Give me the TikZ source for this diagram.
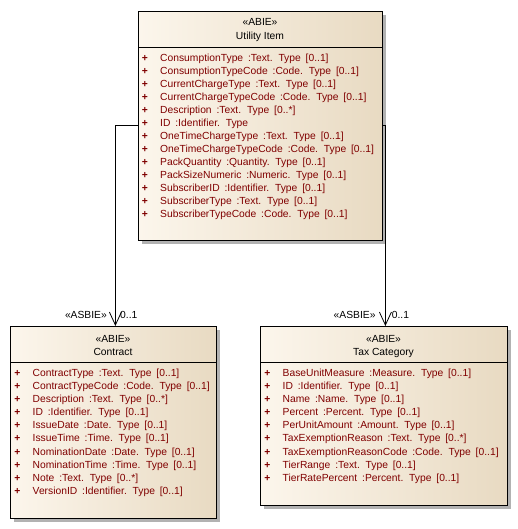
\documentclass[tikz,border=0pt]{standalone}
\usepackage{fontspec}
\setmainfont{Liberation Sans}[WordSpace=1.7]
\newfontfamily\hdrfont{Liberation Sans}
\usetikzlibrary{arrows.meta,shadows}
\definecolor{attrc}{RGB}{128,0,0}
\definecolor{fillL}{RGB}{252,246,236}
\definecolor{fillR}{RGB}{232,218,194}
\definecolor{shadowc}{RGB}{178,178,178}
\begin{document}
\begin{tikzpicture}[x=1pt,y=-1pt,
  classbox/.style={draw=black,line width=0.8pt,left color=fillL,right color=fillR,
    anchor=north west,inner sep=0pt,
    drop shadow={fill=shadowc,opacity=1,shadow xshift=4pt,shadow yshift=-4pt}},
  txt/.style={font=\fontsize{10.3}{12}\selectfont,inner sep=0pt,text=black},
  attr/.style={txt,text=attrc,anchor=base west},
  plus/.style={txt,text=attrc,anchor=base,font=\fontsize{10.3}{12}\selectfont\bfseries},
  hdr/.style={txt,anchor=base,font=\hdrfont\fontsize{10.3}{12}\selectfont},
  lbl/.style={txt,font=\hdrfont\fontsize{10.3}{12}\selectfont},
  conn/.style={draw=black,line width=0.8pt,-{Straight Barb[length=13pt,width=12pt,line width=0.8pt]}}
]
\useasboundingbox[fill=white] (0,0) rectangle (517,529);

% boxes
\node[classbox,minimum width=244pt,minimum height=229pt] (ui) at (138,11) {};
\node[classbox,minimum width=206pt,minimum height=192pt] (ct) at (10,326) {};
\node[classbox,minimum width=247pt,minimum height=179pt] (tc) at (260,326) {};

% separators
\draw[line width=0.8pt] (138,47) -- (382,47);
\draw[line width=0.8pt] (10,362.5) -- (216,362.5);
\draw[line width=0.8pt] (260,362.5) -- (507,362.5);

% headers
\node[hdr] (ui-s) at (260,25.7) {«ABIE»};
\node[hdr] (ui-n) at (260,39.7) {Utility Item};
\node[hdr] (ct-s) at (113,342.7) {«ABIE»};
\node[hdr] (ct-n) at (113,355.7) {Contract};
\node[hdr] (tc-s) at (383.5,342.7) {«ABIE»};
\node[hdr] (tc-n) at (383.5,355.7) {Tax Category};

% attributes
\foreach \t [count=\i from 0] in {
  ConsumptionType :Text. Type [0..1],
  ConsumptionTypeCode :Code. Type [0..1],
  CurrentChargeType :Text. Type [0..1],
  CurrentChargeTypeCode :Code. Type [0..1],
  Description :Text. Type [0..*],
  ID :Identifier. Type,
  OneTimeChargeType :Text. Type [0..1],
  OneTimeChargeTypeCode :Code. Type [0..1],
  PackQuantity :Quantity. Type [0..1],
  PackSizeNumeric :Numeric. Type [0..1],
  SubscriberID :Identifier. Type [0..1],
  SubscriberType :Text. Type [0..1],
  SubscriberTypeCode :Code. Type [0..1]} {
  \node[plus] (ui-p\i) at (145,61.7+13*\i) {+};
  \node[attr] (ui-a\i) at (160,61.7+13*\i) {\t};
}
\foreach \t [count=\i from 0] in {
  ContractType :Text. Type [0..1],
  ContractTypeCode :Code. Type [0..1],
  Description :Text. Type [0..*],
  ID :Identifier. Type [0..1],
  IssueDate :Date. Type [0..1],
  IssueTime :Time. Type [0..1],
  NominationDate :Date. Type [0..1],
  NominationTime :Time. Type [0..1],
  Note :Text. Type [0..*],
  VersionID :Identifier. Type [0..1]} {
  \node[plus] (ct-p\i) at (17.5,376.7+13.05*\i) {+};
  \node[attr] (ct-a\i) at (32.5,376.7+13.05*\i) {\t};
}
\foreach \t [count=\i from 0] in {
  BaseUnitMeasure :Measure. Type [0..1],
  ID :Identifier. Type [0..1],
  Name :Name. Type [0..1],
  Percent :Percent. Type [0..1],
  PerUnitAmount :Amount. Type [0..1],
  TaxExemptionReason :Text. Type [0..*],
  TaxExemptionReasonCode :Code. Type [0..1],
  TierRange :Text. Type [0..1],
  TierRatePercent :Percent. Type [0..1]} {
  \node[plus] (tc-p\i) at (267.5,376.7+13.05*\i) {+};
  \node[attr] (tc-a\i) at (282.5,376.7+13.05*\i) {\t};
}

% connectors
\draw[conn] (ui.west) -| ([xshift=2pt]ct.north);
\draw[conn] (ui.east) -| ([xshift=1.5pt]tc.north);

% connector labels
\node[lbl,anchor=base east] (l1) at (107,318.7) {«ASBIE»};
\node[lbl,anchor=base west] (m1) at (120,318.7) {0..1};
\node[lbl,anchor=base east] (l2) at (375.7,318.7) {«ASBIE»};
\node[lbl,anchor=base west] (m2) at (391.7,318.7) {0..1};
\end{tikzpicture}
\end{document}
